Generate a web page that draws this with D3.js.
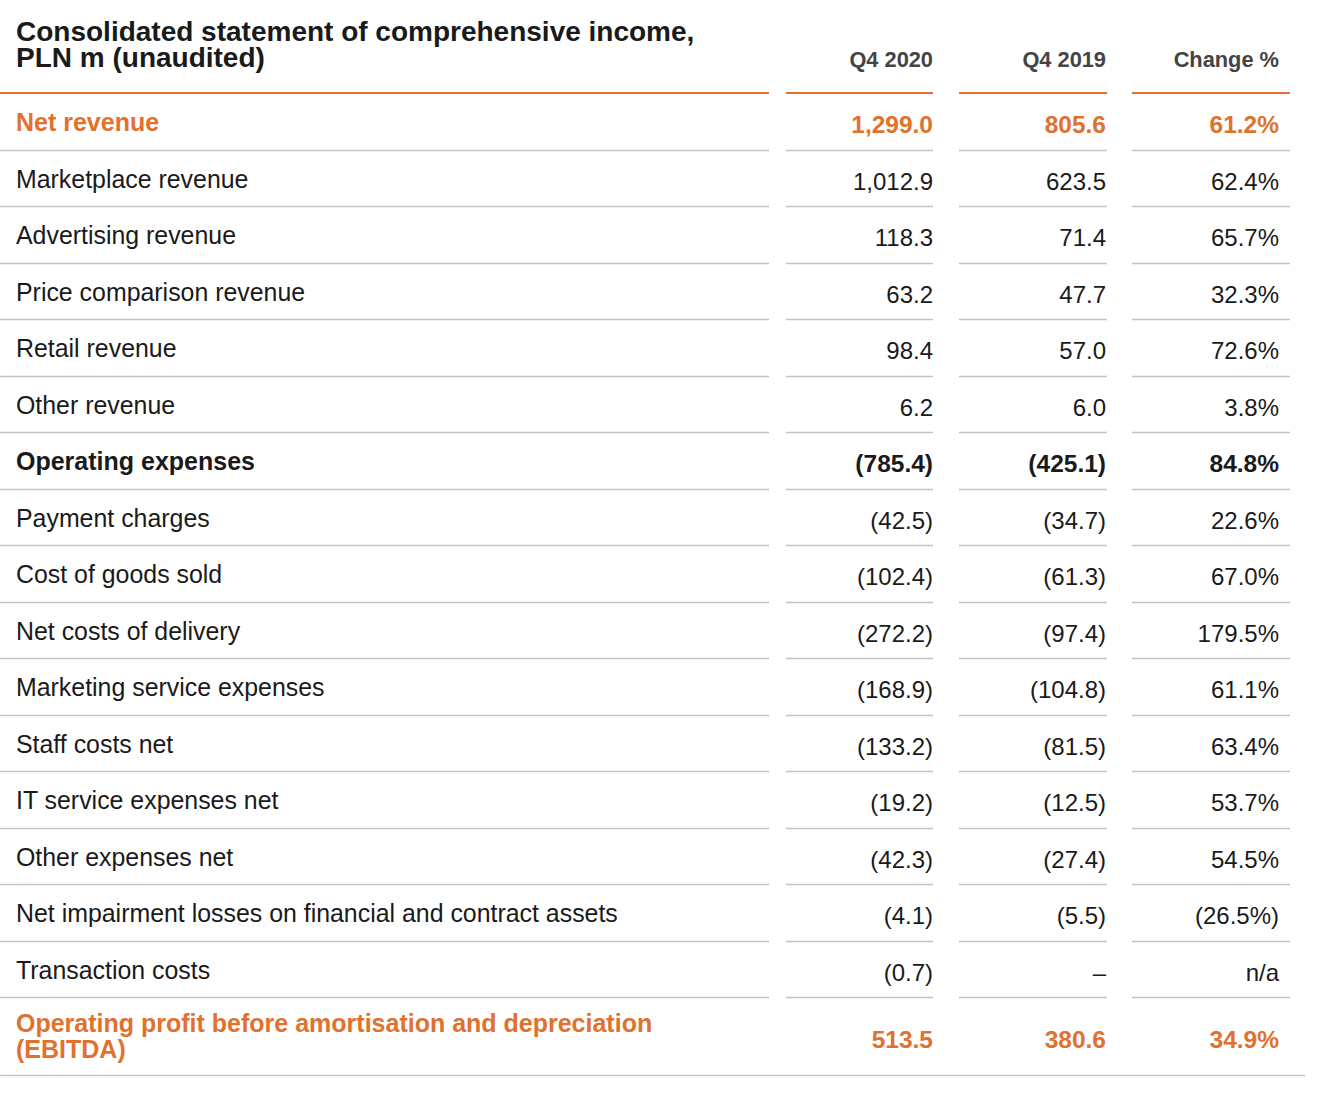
<!DOCTYPE html>
<html><head><meta charset="utf-8">
<script src="https://cdn.jsdelivr.net/npm/d3@7"></script>
<style>body{margin:0;background:#fff;font-family:"Liberation Sans",Arial,sans-serif}</style>
</head><body>
<svg id="c" width="1324" height="1094"></svg>
<script>
const titleLines = ["Consolidated statement of comprehensive income,", "PLN m (unaudited)"];
const columns = ["Q4 2020", "Q4 2019", "Change %"];
const categories = ["Net revenue","Marketplace revenue","Advertising revenue","Price comparison revenue","Retail revenue","Other revenue","Operating expenses","Payment charges","Cost of goods sold","Net costs of delivery","Marketing service expenses","Staff costs net","IT service expenses net","Other expenses net","Net impairment losses on financial and contract assets","Transaction costs","Operating profit before amortisation and depreciation (EBITDA)"];
const q42020 = ["1,299.0","1,012.9","118.3","63.2","98.4","6.2","(785.4)","(42.5)","(102.4)","(272.2)","(168.9)","(133.2)","(19.2)","(42.3)","(4.1)","(0.7)","513.5"];
const q42019 = ["805.6","623.5","71.4","47.7","57.0","6.0","(425.1)","(34.7)","(61.3)","(97.4)","(104.8)","(81.5)","(12.5)","(27.4)","(5.5)","–","380.6"];
const changePct = ["61.2%","62.4%","65.7%","32.3%","72.6%","3.8%","84.8%","22.6%","67.0%","179.5%","61.1%","63.4%","53.7%","54.5%","(26.5%)","n/a","34.9%"];
const rowStyle = ["highlight","normal","normal","normal","normal","normal","bold","normal","normal","normal","normal","normal","normal","normal","normal","normal","highlight"];

const ORANGE = "#e0712f", DARK = "#1a1a1a", GRAY = "#444", LINE = "#c4c4c4";
const svg = d3.select("#c");
const headerLine = 93, rowH = 56.5;
const lastRowH = 78;
const colSpans = [[0,769],[786,933],[959,1107],[1132,1290]];
const rightX = [933,1106,1279];

const y = d3.scaleLinear().domain([0, 1]).range([headerLine, headerLine + rowH]);
const rowTop = i => y(i);

// title
svg.append("g").selectAll("text").data(titleLines).join("text")
  .attr("x",16).attr("y",(d,i)=>41+i*26)
  .attr("font-size",28).attr("font-weight","bold").attr("fill",DARK).text(d=>d);
// column headers
svg.append("g").selectAll("text").data(columns).join("text")
  .attr("x",(d,i)=>rightX[i]).attr("y",67).attr("text-anchor","end")
  .attr("font-size",21.8).attr("font-weight","bold").attr("fill",GRAY).text(d=>d);
// orange header line
svg.append("g").selectAll("line").data(colSpans).join("line")
  .attr("x1",d=>d[0]).attr("x2",d=>d[1]).attr("y1",headerLine).attr("y2",headerLine)
  .attr("stroke",ORANGE).attr("stroke-width",2.2);

const n = categories.length;
const gl = svg.append("g");
for (let i=0;i<n-1;i++){
  const yy = Math.round(rowTop(i+1))+0.5;
  gl.selectAll(null).data(colSpans).join("line")
    .attr("x1",d=>d[0]).attr("x2",d=>d[1]).attr("y1",yy).attr("y2",yy)
    .attr("stroke",LINE).attr("stroke-width",1.5);
}
const lastY = Math.round(rowTop(n-1)+lastRowH)+0.5;
gl.append("line").attr("x1",0).attr("x2",1305).attr("y1",lastY).attr("y2",lastY)
  .attr("stroke",LINE).attr("stroke-width",1.5);

const color = s => s==="normal"||s==="bold" ? DARK : ORANGE;
const weight = s => s==="normal"?"normal":"bold";
const labelFS = s => s==="normal"?24.9:25;
const valFS = s => s==="normal"?24:24.5;

categories.forEach((c,i)=>{
  const top = rowTop(i), s = rowStyle[i];
  const g = svg.append("g");
  if (i===n-1){
    const parts = ["Operating profit before amortisation and depreciation","(EBITDA)"];
    g.selectAll("text.l").data(parts).join("text").attr("class","l")
      .attr("x",16).attr("y",(d,k)=>top+35+k*26)
      .attr("font-size",labelFS(s)).attr("font-weight",weight(s)).attr("fill",color(s)).text(d=>d);
  } else {
    g.append("text").attr("x",16).attr("y",top+38)
      .attr("font-size",labelFS(s)).attr("font-weight",weight(s)).attr("fill",color(s)).text(c);
  }
  const vals = [q42020[i],q42019[i],changePct[i]];
  const vy = i===n-1 ? top+51 : top+40;
  g.selectAll("text.v").data(vals).join("text").attr("class","v")
    .attr("x",(d,k)=>rightX[k]).attr("y",vy).attr("text-anchor","end")
    .attr("font-size",valFS(s)).attr("font-weight",weight(s)).attr("fill",color(s)).text(d=>d);
});
</script>
</body></html>
